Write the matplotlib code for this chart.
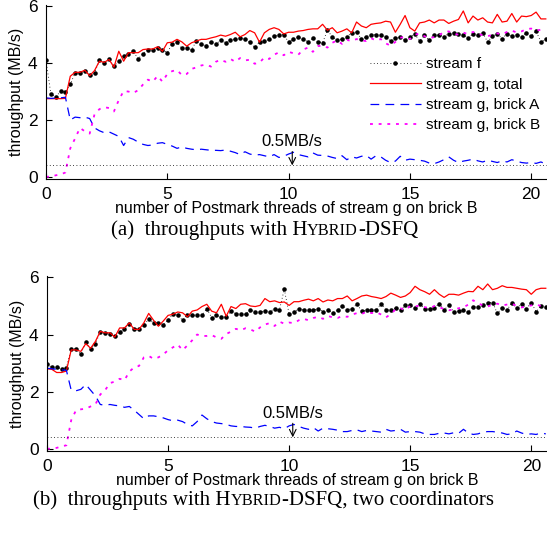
import numpy as np
import matplotlib
matplotlib.use("Agg")
import matplotlib.pyplot as plt
from matplotlib.offsetbox import TextArea, HPacker, AnchoredOffsetbox

# x axis: number of Postmark threads (sampled every 0.2)
x = np.round(np.arange(104) * 0.2, 1)

# (a) HYBRID-DSFQ
top_f = [4.10, 2.92, 2.81, 3.01, 2.99, 3.25, 3.66, 3.66, 3.72, 3.60, 3.66, 4.10, 4.01, 4.13, 3.90, 4.07, 4.25, 4.31, 4.42, 4.15,
         4.34, 4.48, 4.48, 4.54, 4.48, 4.37, 4.68, 4.74, 4.52, 4.52, 4.48, 4.78, 4.66, 4.62,
         4.75, 4.68, 4.80, 4.72, 4.81, 4.84, 4.89, 4.84, 4.75, 4.56, 4.74, 4.78, 4.84, 4.95, 5.01, 5.01, 4.74, 4.86,
         4.92, 4.84, 4.75, 4.87, 4.75, 4.72, 5.16, 4.93, 4.81, 4.84, 4.93, 5.07, 5.10, 4.86, 4.93, 5.01, 5.00,
         5.00, 4.93, 4.78, 4.87, 4.92, 4.81, 4.93, 5.03, 4.78, 4.98, 4.81, 5.01, 4.98, 4.93, 5.04, 5.07, 5.03, 4.98,
         4.89, 5.03, 4.98, 5.07, 4.75, 4.95, 5.03, 4.86, 5.04, 4.95, 5.01, 4.93, 5.07, 4.95, 5.13, 4.74, 4.86]
top_total = [2.75, 2.75, 2.75, 2.75, 2.76,
             3.54, 3.68, 3.68, 3.75, 3.56, 3.74, 4.07, 4.03, 4.13, 3.86, 4.42, 4.07, 4.37, 4.37, 4.37, 4.48, 4.50,
             4.50, 4.58, 4.42, 4.72, 4.74, 4.84, 4.75, 4.60, 4.72, 4.78, 4.84, 4.84,
             4.89, 4.93, 4.99, 4.95, 5.01, 5.09, 4.93, 5.01, 5.15, 5.07, 4.74, 5.07, 5.19, 5.25, 5.19, 5.03, 5.09, 5.09,
             5.13, 5.15, 5.19, 5.21, 5.21, 5.37, 5.16, 5.25, 5.07, 5.13, 5.21, 5.07, 5.45, 5.31, 5.25, 5.37, 5.40,
             5.42, 5.48, 5.45, 5.09, 5.37, 5.68, 5.25, 5.13, 5.42, 5.45, 5.52, 5.42, 5.52, 5.52, 5.40, 5.48, 5.54, 5.84,
             5.42, 5.66, 5.52, 5.60, 5.45, 5.42, 5.72, 5.45, 5.48, 5.75, 5.45, 5.66, 5.64, 5.68, 5.80, 5.56, 5.56]
top_A = [2.78, 2.76, 2.77, 2.78, 2.80,
         2.00, 2.10, 2.08, 2.10, 2.05, 1.72, 1.62, 1.55, 1.58, 1.50, 1.42, 1.10, 1.38, 1.32, 1.22, 1.14, 1.10,
         1.12, 1.18, 1.20, 1.14, 1.08, 1.00, 1.05, 1.00, 0.97, 0.95, 0.97, 0.95,
         0.93, 0.93, 0.92, 0.94, 0.90, 0.85, 0.78, 0.88, 0.80, 0.76, 0.78, 0.74, 0.70, 0.78, 0.68, 0.72,
         0.80, 0.86, 0.78, 0.74, 0.70, 0.84, 0.76, 0.75, 0.73, 0.68, 0.64, 0.74, 0.60, 0.70, 0.66, 0.72, 0.75, 0.62, 0.74,
         0.70, 0.58, 0.50, 0.55, 0.72, 0.58, 0.62, 0.60, 0.58, 0.55, 0.48, 0.46, 0.52, 0.60, 0.70, 0.58, 0.50, 0.55,
         0.58, 0.62, 0.56, 0.52, 0.58, 0.54, 0.50, 0.56, 0.52, 0.60, 0.55, 0.50, 0.48, 0.50, 0.47, 0.52, 0.45]
top_B = [0.00, 0.00, 0.05, 0.08, 0.15,
         1.00, 1.35, 1.72, 1.60, 1.52, 2.20, 2.38, 2.45, 2.42, 2.30, 2.70, 3.02, 3.00, 2.95, 3.05, 3.25, 3.42,
         3.35, 3.55, 3.35, 3.62, 3.72, 3.76, 3.58, 3.62, 3.80, 3.85, 3.92, 3.95,
         3.88, 4.05, 4.12, 4.05, 4.15, 4.05, 4.18, 4.10, 4.12, 3.98, 4.02, 4.20, 4.15, 4.30, 4.38, 4.28, 4.40, 4.35,
         4.30, 4.48, 4.55, 4.40, 4.60, 4.62, 4.55, 4.72, 4.80, 4.68, 4.82, 4.78, 4.85, 4.80, 4.78, 4.88, 4.80,
         4.85, 4.70, 4.62, 4.75, 4.90, 4.92, 4.85, 5.00, 5.05, 4.95, 4.88, 4.92, 4.98, 5.10, 5.12, 5.05, 5.00, 5.08,
         5.02, 5.10, 5.05, 4.98, 4.95, 5.00, 5.05, 5.02, 5.10, 5.15, 5.08, 5.12, 5.20, 5.22, 5.15, 5.18, 5.12]

# (b) HYBRID-DSFQ, two coordinators
bot_f = [2.96, 2.85, 2.87, 2.79, 2.84, 3.49, 3.50, 3.31, 3.74, 3.50, 3.68, 4.09, 4.06, 4.02, 3.94, 4.09, 4.21, 4.37, 4.20, 4.20,
         4.35, 4.53, 4.41, 4.41, 4.35, 4.50, 4.73, 4.67, 4.50, 4.70, 4.68, 4.67, 4.67, 4.91,
         4.59, 4.67, 4.61, 4.61, 4.82, 4.73, 4.71, 4.71, 4.86, 4.80, 4.80, 4.82, 4.80, 4.91, 4.86, 5.59, 4.71, 4.79,
         4.91, 4.85, 4.85, 4.85, 4.91, 4.80, 4.85, 4.76, 4.85, 5.00, 4.86, 4.91, 5.06, 4.82, 4.86, 4.86,
         4.86, 5.08, 4.86, 4.85, 4.92, 4.86, 5.02, 5.03, 4.92, 5.06, 4.91, 4.88, 4.94, 5.08, 4.86, 5.03, 4.79, 4.82,
         4.86, 4.79, 4.98, 4.97, 5.03, 5.12, 5.12, 4.74, 4.94, 4.86, 5.12, 4.92, 5.08, 4.91, 5.12, 4.80, 5.00, 4.95]
bot_total = [2.80, 2.78, 2.67, 2.67, 2.72,
             3.46, 3.46, 3.41, 3.68, 3.52, 3.76, 4.11, 4.06, 4.06, 3.91, 4.23, 4.23, 4.41, 4.18, 4.18, 4.41, 4.74,
             4.50, 4.29, 4.47, 4.67, 4.71, 4.79, 4.76, 4.62, 4.82, 4.86, 4.98, 5.06,
             4.82, 4.76, 5.06, 4.64, 4.98, 4.91, 5.06, 5.08, 5.00, 4.98, 5.02, 5.26, 5.15, 5.18, 5.12, 5.14, 5.02, 5.15,
             5.15, 5.20, 5.24, 5.18, 5.26, 5.14, 5.21, 5.18, 5.26, 5.26, 5.35, 5.18, 5.26, 5.35, 5.38, 5.33,
             5.30, 5.26, 5.33, 5.45, 5.38, 5.30, 5.35, 5.47, 5.69, 5.57, 5.50, 5.41, 5.57, 5.41, 5.30, 5.41, 5.41, 5.38,
             5.45, 5.51, 5.50, 5.69, 5.57, 5.77, 5.57, 5.62, 5.71, 5.65, 5.65, 5.62, 5.59, 5.57, 5.41, 5.57, 5.62, 5.62]
bot_A = [2.82, 2.80, 2.78, 2.76, 2.75,
         2.05, 2.03, 2.08, 2.25, 2.05, 1.85, 1.55, 1.52, 1.55, 1.52, 1.50, 1.45, 1.48, 1.35, 1.20, 1.05, 1.15,
         1.15, 1.12, 1.08, 1.02, 0.98, 1.00, 0.95, 0.85, 0.80, 0.95, 1.18, 1.05,
         0.95, 0.90, 0.88, 0.85, 0.80, 0.78, 0.78, 0.76, 0.75, 0.72, 0.78, 0.82, 0.78, 0.72, 0.75, 0.70, 0.80, 0.85,
         0.78, 0.72, 0.68, 0.74, 0.62, 0.72, 0.70, 0.68, 0.65, 0.60, 0.60, 0.64, 0.66, 0.60, 0.64, 0.62,
         0.60, 0.58, 0.68, 0.62, 0.64, 0.68, 0.58, 0.60, 0.60, 0.58, 0.52, 0.50, 0.50, 0.54, 0.55, 0.52, 0.56, 0.54,
         0.68, 0.55, 0.50, 0.52, 0.58, 0.60, 0.60, 0.58, 0.55, 0.50, 0.52, 0.62, 0.55, 0.50, 0.52, 0.50, 0.55, 0.52]
bot_B = [0.00, 0.00, 0.03, 0.08, 0.12,
         1.00, 1.35, 1.38, 1.40, 1.48, 1.55, 1.90, 2.05, 2.30, 2.35, 2.45, 2.40, 2.70, 2.85, 2.90, 3.20, 3.25,
         3.15, 3.20, 3.30, 3.45, 3.55, 3.65, 3.45, 3.62, 3.80, 4.00, 3.95, 3.95,
         3.98, 3.90, 3.85, 4.02, 4.10, 4.20, 4.15, 4.22, 4.18, 4.10, 4.25, 4.35, 4.40, 4.30, 4.45, 4.38, 4.42, 4.40,
         4.50, 4.55, 4.50, 4.58, 4.62, 4.55, 4.65, 4.60, 4.58, 4.65, 4.62, 4.70, 4.75, 4.72, 4.80, 4.75,
         4.78, 4.70, 4.60, 4.72, 4.88, 4.92, 4.85, 5.00, 4.98, 5.02, 4.96, 4.92, 5.00, 4.95, 4.90, 4.85, 4.88, 4.92,
         4.95, 5.05, 5.20, 5.10, 5.02, 4.98, 5.05, 5.08, 5.02, 5.05, 5.08, 5.00, 4.95, 4.98, 5.02, 5.05, 5.00, 5.05]

ref_level = 0.4          # dotted 0.5MB/s reference line
ref_label = "0.5MB/s"
ref_x = 10.15

labels = ["stream f", "stream g, total", "stream g, brick A", "stream g, brick B"]
xticks = [0, 5, 10, 15, 20]
yticks = [0, 2, 4, 6]

plt.rcParams["font.family"] = ["Liberation Sans", "DejaVu Sans"]

fig = plt.figure(figsize=(5.47, 5.33), dpi=100)
ax_top = fig.add_axes([46 / 547, 1 - 179 / 533, 501 / 547, 174 / 533])
ax_bot = fig.add_axes([47 / 547, 1 - 451 / 533, 500 / 547, 175 / 533])


def draw_panel(ax, f, total, a, b):
    ax.plot(x, f, color="k", ls=(0, (1, 3)), lw=0.6, marker=".", ms=4.5, label=labels[0])
    ax.plot(x, total, color="#ff0000", lw=0.9, label=labels[1])
    ax.plot(x, a, color="#0000ff", ls=(0, (7, 5)), lw=0.9, label=labels[2])
    ax.plot(x, b, color="#ff00ff", ls=(0, (1.6, 3.2)), lw=1.3, label=labels[3])
    ax.axhline(ref_level, color="k", ls=(0, (1, 3)), lw=0.6)
    ax.annotate(ref_label, xy=(ref_x, ref_level), xytext=(ref_x, 1.25), ha="center", va="center",
                fontsize=12, arrowprops=dict(arrowstyle="->", lw=0.8, shrinkA=0, shrinkB=0))
    ax.set_xlim(0, 20.65)
    ax.set_ylim(-0.08, 6.05)
    ax.set_xticks(xticks)
    ax.set_yticks(yticks)
    ax.tick_params(direction="in", length=4, width=0.8, labelsize=12.5, pad=6)
    ax.spines["top"].set_visible(False)
    ax.spines["right"].set_visible(False)
    ax.set_xlabel("number of Postmark threads of stream g on brick B", fontsize=11.5, labelpad=-1)
    ax.set_ylabel("throughput (MB/s)", fontsize=11.5, labelpad=3)


draw_panel(ax_top, top_f, top_total, top_A, top_B)
draw_panel(ax_bot, bot_f, bot_total, bot_A, bot_B)

ax_top.legend(loc="upper left", bbox_to_anchor=(0.647, 0.70), frameon=False, fontsize=11,
              numpoints=1, handlelength=3.3, handletextpad=0.35, labelspacing=0.42, borderpad=0,
              borderaxespad=0)


# captions with small caps for HYBRID
def caption(prefix, suffix, xc, yc):
    serif = "Liberation Serif"
    parts = [TextArea(prefix + "H", textprops=dict(family=serif, size=15)),
             TextArea("YBRID", textprops=dict(family=serif, size=11.7)),
             TextArea("-DSFQ" + suffix, textprops=dict(family=serif, size=15))]
    box = HPacker(children=parts, align="baseline", pad=0, sep=0)
    anchored = AnchoredOffsetbox(loc="center", child=box, frameon=False, pad=0, borderpad=0,
                                 bbox_to_anchor=(xc, yc), bbox_transform=fig.transFigure)
    fig.add_artist(anchored)


caption("(a)  throughputs with ", "", 264.5 / 547, 1 - 230 / 533)
caption("(b)  throughputs with ", ", two coordinators", 263.5 / 547, 1 - 500 / 533)

fig.savefig("out.png", dpi=100)
